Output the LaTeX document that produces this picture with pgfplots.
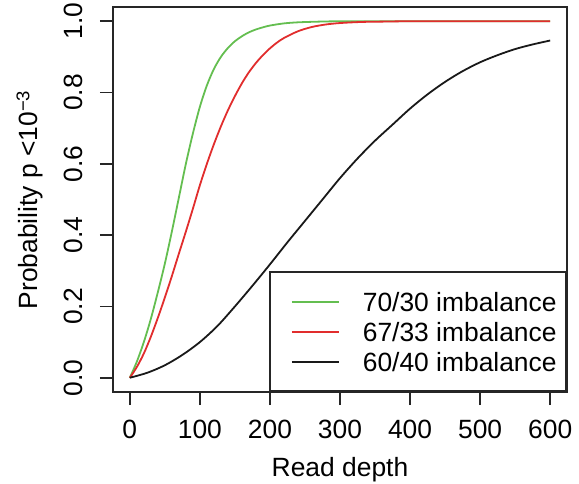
\documentclass[border=0pt]{standalone}
\usepackage{pgfplots}
\pgfplotsset{compat=1.18}
\usepackage{fontspec}
\setmainfont{Liberation Sans}
\definecolor{cgreen}{RGB}{100,190,80}
\definecolor{cred}{RGB}{225,45,45}
\definecolor{cblack}{RGB}{25,25,25}
\begin{document}
\begin{tikzpicture}
\path[use as bounding box] (-56.5pt,-45.5pt) rectangle (233pt,196pt);
\begin{axis}[
  scale only axis,
  width=227pt, height=192.5pt,
  xmin=-24, xmax=624, ymin=-0.04, ymax=1.04,
  axis line style={line width=0.8pt, black!85},
  every tick/.style={line width=0.8pt, black!85},
  tick align=outside,
  major tick length=6.5pt,
  xtick={0,100,200,300,400,500,600},
  ytick={0,0.2,0.4,0.6,0.8,1.0},
  xtick pos=bottom, ytick pos=left,
  font=\fontsize{13.2}{15}\selectfont,
  /pgf/number format/assume math mode=true,
  yticklabel={\pgfmathprintnumber[fixed,fixed zerofill,precision=1]{\tick}},
  yticklabel style={rotate=90, anchor=south, inner sep=0pt},
  yticklabel shift=8.5pt,
  xticklabel style={anchor=north, inner sep=0pt},
  xticklabel shift=7.5pt,
  xlabel={Read depth},
  ylabel={Probability p <10\textsuperscript{−3}},
  xlabel style={at={(axis description cs:0.5,-0.2182)}, anchor=base, inner sep=0pt},
  ylabel style={at={(axis description cs:-0.1652,0.5)}, anchor=base, inner sep=0pt, rotate=0},
  legend style={at={(1,0)}, anchor=south east, draw=black!85, line width=0.8pt,
    inner xsep=4.8pt, inner ysep=7.3pt, column sep=11.5pt,
    nodes={inner sep=0pt, text height=12.3pt, text depth=2.7pt},
    font=\fontsize{13.2}{15}\selectfont},
  legend cell align=left,
  legend image code/.code={\path (0pt,0pt); \draw[#1, line width=0.9pt] (5.8pt,0pt) -- (29.3pt,0pt);},
]
\addplot[cgreen, line width=0.9pt, smooth, tension=0.5] coordinates {
(0,0) (10,0.045) (20,0.10) (30,0.165) (40,0.24) (50,0.32) (60,0.41) (70,0.505)
(80,0.60) (90,0.685) (100,0.76) (110,0.82) (120,0.866) (130,0.90) (140,0.925)
(150,0.944) (160,0.958) (170,0.969) (180,0.977) (190,0.983) (200,0.988)
(220,0.994) (240,0.997) (270,0.999) (300,1.0) (350,1.0) (400,1.0) (500,1.0) (600,1.0)};
\addlegendentry{70/30 imbalance}
\addplot[cred, line width=0.9pt, smooth, tension=0.5] coordinates {
(0,0) (10,0.03) (20,0.068) (30,0.115) (40,0.168) (50,0.225) (60,0.285) (70,0.348)
(80,0.41) (90,0.474) (100,0.54) (110,0.60) (120,0.655) (130,0.705) (140,0.75)
(150,0.79) (160,0.826) (170,0.857) (180,0.883) (190,0.905) (200,0.924) (210,0.94)
(220,0.953) (240,0.972) (260,0.984) (280,0.991) (300,0.995) (330,0.998)
(360,0.999) (400,1.0) (500,1.0) (600,1.0)};
\addlegendentry{67/33 imbalance}
\addplot[cblack, line width=0.9pt, smooth, tension=0.5] coordinates {
(0,0) (25,0.014) (50,0.035) (75,0.064) (100,0.10) (125,0.145) (150,0.20)
(175,0.258) (200,0.318) (225,0.38) (250,0.44) (275,0.50) (300,0.56) (325,0.615)
(350,0.665) (375,0.71) (400,0.755) (425,0.795) (450,0.83) (475,0.86) (500,0.885)
(525,0.905) (550,0.922) (575,0.935) (600,0.946)};
\addlegendentry{60/40 imbalance}
\end{axis}
\end{tikzpicture}
\end{document}
